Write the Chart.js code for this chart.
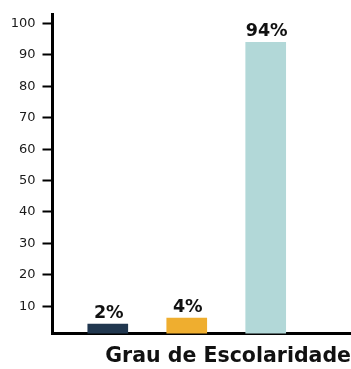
<!DOCTYPE html>
<html>
<head>
<meta charset="utf-8">
<script src="https://cdn.jsdelivr.net/npm/chart.js@4.4.1/dist/chart.umd.min.js"></script>
<style>
    html, body { margin: 0; padding: 0; background: #fff; }
    #wrap { width: 351px; height: 369px; position: relative; }
</style>
</head>
<body>
<div id="wrap"><canvas id="escolaridadeChart"></canvas></div>
<script>
// chart data
const categories = ['Nível 1', 'Nível 2', 'Nível 3'];
const barValues = [4.3, 6.2, 94];
const percentLabels = ['2%', '4%', '94%'];
const barColors = ['#21374f', '#efae2f', '#b2d8d8'];
const yTicks = [10, 20, 30, 40, 50, 60, 70, 80, 90, 100];
const axisTitle = 'Grau de Escolaridade';

// writes the percent text above each bar
const percentLabelPlugin = {
    id: 'percentLabels',
    afterDatasetsDraw(chart) {
        const ctx = chart.ctx;
        const meta = chart.getDatasetMeta(0);
        ctx.save();
        ctx.font = 'bold 17.5px "DejaVu Sans"';
        ctx.fillStyle = '#111';
        ctx.textAlign = 'center';
        ctx.textBaseline = 'alphabetic';
        meta.data.forEach((bar, i) => {
            ctx.fillText(percentLabels[i], bar.x + 1, bar.y - 6);
        });
        ctx.restore();
    }
};

const ctx = document.getElementById('escolaridadeChart').getContext('2d');
new Chart(ctx, {
    type: 'bar',
    data: {
        datasets: [{
            label: axisTitle,
            data: categories.map((c, i) => ({ x: i, y: barValues[i] })),
            backgroundColor: barColors,
            borderWidth: 0,
            barThickness: 40
        }]
    },
    options: {
        responsive: true,
        maintainAspectRatio: false,
        animation: false,
        layout: { padding: { top: 12, right: 0, left: 0, bottom: 0 } },
        plugins: {
            legend: { display: false },
            tooltip: { enabled: false }
        },
        scales: {
            x: {
                type: 'linear',
                offset: false,
                min: -0.7,
                max: 3.08,
                ticks: { display: false },
                grid: { display: false },
                border: { display: true, color: '#000', width: 3 },
                title: {
                    display: true,
                    text: axisTitle,
                    align: 'end',
                    color: '#111',
                    font: { family: 'DejaVu Sans', size: 20.5, weight: 'bold' },
                    padding: { top: 8, bottom: 0 }
                },
                afterFit(scale) { scale.height = 35.5; }
            },
            y: {
                min: 1.3,
                max: 102.8,
                afterBuildTicks(axis) {
                    axis.ticks = yTicks.map(v => ({ value: v }));
                },
                ticks: {
                    color: '#1a1a1a',
                    padding: 7,
                    font: { family: 'DejaVu Sans', size: 13 }
                },
                grid: {
                    drawOnChartArea: false,
                    drawTicks: true,
                    tickLength: 10,
                    tickWidth: 2,
                    tickColor: '#000'
                },
                border: { display: true, color: '#000', width: 3 },
                afterFit(scale) { scale.width = 52.5; }
            }
        }
    },
    plugins: [percentLabelPlugin]
});
</script>
</body>
</html>
